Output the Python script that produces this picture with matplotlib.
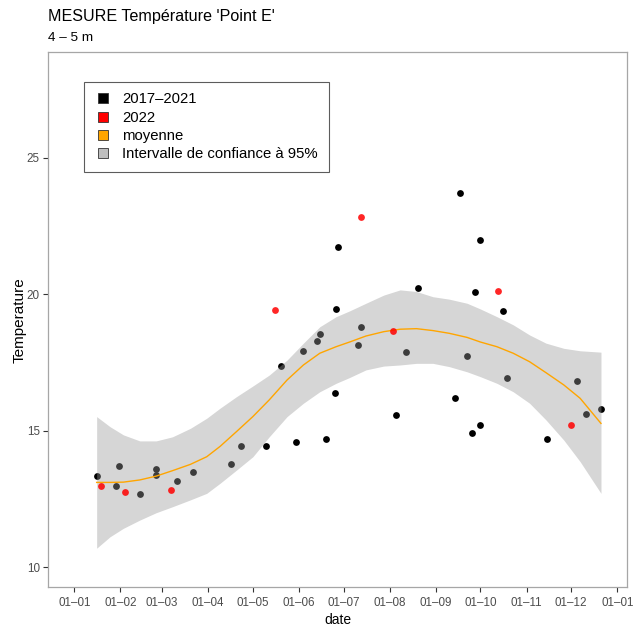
import matplotlib
matplotlib.use("Agg")
import matplotlib.pyplot as plt
import matplotlib.dates as mdates
from matplotlib.lines import Line2D
import pandas as pd

plt.rcParams['font.family'] = ['Liberation Sans', 'DejaVu Sans']

# mesures 2017-2021 (ramenées sur une année)
dates_anciennes = ["01-16", "01-31", "01-29", "02-14", "02-25", "02-25", "03-11", "03-22",
                   "04-16", "04-23", "05-10", "05-20", "05-30", "06-04", "06-13", "06-15",
                   "06-19", "06-25", "06-26", "06-27", "07-11", "07-13", "08-05", "08-12",
                   "08-20", "09-14", "09-17", "09-22", "09-25", "09-27", "10-01", "10-01",
                   "10-16", "10-19", "11-15", "12-05", "12-11", "12-21"]
temp_anciennes = [13.36, 13.70, 12.99, 12.68, 13.60, 13.38, 13.16, 13.48,
                  13.77, 14.44, 14.45, 17.37, 14.60, 17.92, 18.29, 18.55,
                  14.70, 16.37, 19.47, 21.74, 18.14, 18.81, 15.59, 17.89,
                  20.24, 16.21, 23.70, 17.74, 14.92, 20.07, 21.99, 15.22,
                  19.39, 16.95, 14.70, 16.83, 15.60, 15.79]

# mesures 2022
dates_2022 = ["01-19", "02-04", "03-07", "05-16", "07-13", "08-03", "10-13", "12-01"]
temp_2022 = [12.97, 12.77, 12.83, 19.41, 22.83, 18.66, 20.12, 15.21]

# moyenne lissée et intervalle de confiance
dates_lisse = ["01-16", "01-25", "02-03", "02-14", "02-25", "03-08", "03-20", "03-31",
               "04-09", "04-20", "05-01", "05-12", "05-24", "06-04", "06-15", "06-26",
               "07-05", "07-16", "07-28", "08-08", "08-19", "08-30", "09-10", "09-22",
               "10-01", "10-12", "10-23", "11-03", "11-14", "11-26", "12-07", "12-21"]
moyenne = [13.11, 13.11, 13.12, 13.20, 13.34, 13.54, 13.77, 14.05,
           14.43, 14.97, 15.52, 16.13, 16.86, 17.41, 17.84, 18.08,
           18.25, 18.47, 18.63, 18.72, 18.74, 18.67, 18.57, 18.42,
           18.25, 18.08, 17.84, 17.53, 17.13, 16.68, 16.19, 15.27]
ic_haut = [15.52, 15.15, 14.85, 14.63, 14.63, 14.78, 15.09, 15.46,
           15.83, 16.25, 16.64, 17.04, 17.59, 18.21, 18.81, 19.18,
           19.39, 19.67, 19.97, 20.16, 20.10, 19.91, 19.82, 19.67,
           19.46, 19.18, 18.88, 18.51, 18.21, 18.02, 17.93, 17.88]
ic_bas = [10.70, 11.12, 11.43, 11.73, 12.00, 12.22, 12.47, 12.71,
          13.08, 13.56, 14.05, 14.78, 15.52, 16.01, 16.43, 16.74,
          16.95, 17.23, 17.37, 17.41, 17.47, 17.47, 17.35, 17.16,
          16.98, 16.74, 16.43, 16.01, 15.40, 14.66, 13.87, 12.71]

def en_date(liste):
    return pd.to_datetime(["2021-" + d for d in liste])

x_anc = en_date(dates_anciennes)
x_22 = en_date(dates_2022)
x_lis = en_date(dates_lisse)

fig = plt.figure(figsize=(6.44, 6.27), dpi=100)
W, H = 644, 627
ax = fig.add_axes([48.3 / W, 1 - 587 / H, (627 - 48.3) / W, (587 - 52.3) / H])

ax.scatter(x_anc, temp_anciennes, s=24, color="black", linewidths=0, zorder=2)
ax.fill_between(x_lis, ic_bas, ic_haut, color="#999999", alpha=0.4, linewidth=0, zorder=3)
ax.plot(x_lis, moyenne, color="#FFA500", lw=1.0, zorder=4)
ax.scatter(x_22, temp_2022, s=24, color="#FF0000", alpha=0.85, linewidths=0, zorder=5)

base = mdates.date2num(pd.Timestamp("2021-01-01"))
ax.set_xlim(base - 17.5, base + 371.5)
ax.set_ylim(9.28, 28.86)

ax.xaxis.set_major_locator(mdates.MonthLocator())
ax.xaxis.set_major_formatter(mdates.DateFormatter("%d–%m"))
ax.set_yticks([10, 15, 20, 25])

for s in ax.spines.values():
    s.set_color("#a6a6a6")
    s.set_linewidth(0.9)
ax.tick_params(colors="#333333", labelcolor="#4d4d4d", labelsize=8.4, length=3.6, width=0.8, pad=2.5)
ax.tick_params(axis="x", pad=3.5)

ax.set_xlabel("date", fontsize=10, labelpad=3)
ax.set_ylabel("Temperature", fontsize=11, labelpad=0)

fig.text(48 / W, 1 - 21.5 / H, "MESURE Température 'Point E'", fontsize=11.6, va="baseline", ha="left")
fig.text(48 / W, 1 - 41 / H, "4 – 5 m", fontsize=9.7, va="baseline", ha="left")

poignees = [
    Line2D([], [], marker="s", ls="none", ms=7.2, mfc="black", mec="#333333", mew=0.6),
    Line2D([], [], marker="s", ls="none", ms=7.2, mfc="#FF0000", mec="#333333", mew=0.6),
    Line2D([], [], marker="s", ls="none", ms=7.2, mfc="#FFA500", mec="#333333", mew=0.6),
    Line2D([], [], marker="s", ls="none", ms=7.2, mfc="#bebebe", mec="#333333", mew=0.6),
]
etiquettes = ["2017–2021", "2022", "moyenne", "Intervalle de confiance à 95%"]
leg = ax.legend(poignees, etiquettes, loc="upper left",
                bbox_to_anchor=((84 - 48.3) / 578.7, 1 - (81.7 - 52.3) / 534.7),
                fontsize=10.7, frameon=True, fancybox=False, borderpad=0.72,
                handlelength=1.1, handletextpad=0.76, labelspacing=0.29, borderaxespad=0)
leg.get_frame().set_edgecolor("#333333")
leg.get_frame().set_linewidth(0.8)

fig.savefig("out.png", dpi=100)
